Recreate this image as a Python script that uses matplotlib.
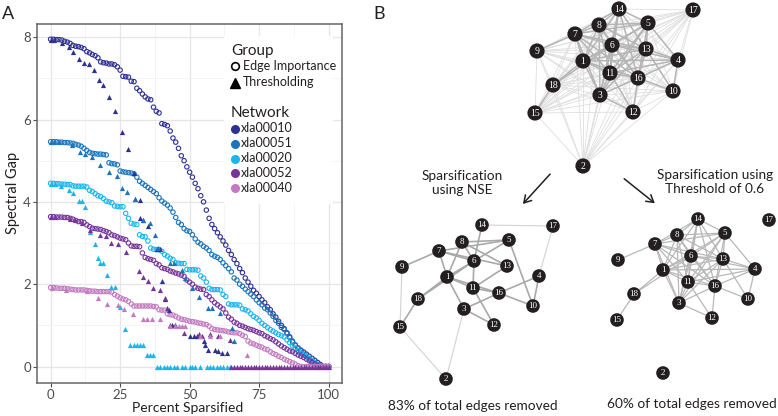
"""Spectral gap vs sparsification (A) and example network sparsification (B)."""

import itertools

import matplotlib

matplotlib.use("Agg")
import matplotlib.pyplot as plt
import numpy as np
from matplotlib.collections import LineCollection
from matplotlib.lines import Line2D
from matplotlib.patches import Circle, FancyArrowPatch, Rectangle

plt.rcParams["font.family"] = ["Lato", "DejaVu Sans"]

# ---------------------------------------------------------------- panel A data
PERCENT = np.arange(0, 101)

NETWORKS = ["xla00010", "xla00051", "xla00020", "xla00052", "xla00040"]
COLORS = ["#2E3192", "#1C75BC", "#1CB5EE", "#77359B", "#C27BC0"]
GROUPS = ["Edge Importance", "Thresholding"]

GAP_XLA00010 = [
    7.95, 7.95, 7.94, 7.94, 7.93, 7.90, 7.88, 7.85, 7.80, 7.78,
    7.77, 7.75, 7.72, 7.65, 7.62, 7.58, 7.55, 7.50, 7.40, 7.38,
    7.37, 7.35, 7.35, 7.33, 7.28, 7.20, 7.05, 7.04, 7.03, 6.93,
    6.92, 6.76, 6.70, 6.62, 6.55, 6.50, 6.48, 6.30, 6.20, 6.16,
    5.90, 5.88, 5.85, 5.72, 5.55, 5.45, 5.30, 5.12, 5.00, 4.85,
    4.72, 4.60, 4.45, 4.32, 4.15, 4.00, 3.80, 3.60, 3.45, 3.35,
    3.25, 3.15, 3.05, 2.95, 2.82, 2.72, 2.60, 2.50, 2.38, 2.28,
    2.15, 2.05, 1.95, 1.85, 1.78, 1.70, 1.62, 1.55, 1.45, 1.38,
    1.28, 1.20, 1.10, 1.00, 0.92, 0.82, 0.72, 0.60, 0.52, 0.45,
    0.40, 0.35, 0.30, 0.25, 0.20, 0.15, 0.10, 0.05, 0.00, 0.00,
    0.00,
]
GAP_XLA00051 = [
    5.46, 5.46, 5.46, 5.45, 5.45, 5.44, 5.44, 5.43, 5.42, 5.40,
    5.38, 5.35, 5.30, 5.25, 5.20, 5.18, 5.17, 5.16, 5.16, 5.15,
    5.14, 4.95, 4.93, 4.92, 4.90, 4.75, 4.73, 4.72, 4.71, 4.70,
    4.68, 4.60, 4.50, 4.45, 4.40, 4.35, 4.30, 4.25, 4.20, 4.10,
    4.02, 3.97, 3.92, 3.85, 3.75, 3.62, 3.50, 3.45, 3.35, 3.30,
    3.28, 3.20, 3.10, 3.02, 2.98, 2.92, 2.88, 2.82, 2.72, 2.68,
    2.65, 2.60, 2.52, 2.45, 2.38, 2.30, 2.15, 2.10, 2.00, 1.95,
    1.88, 1.82, 1.76, 1.70, 1.62, 1.55, 1.50, 1.42, 1.38, 1.30,
    1.22, 1.12, 1.05, 0.95, 0.90, 0.80, 0.70, 0.62, 0.52, 0.45,
    0.38, 0.30, 0.25, 0.18, 0.12, 0.08, 0.02, 0.00, 0.00, 0.00,
    0.00,
]
GAP_XLA00020 = [
    4.45, 4.45, 4.44, 4.44, 4.43, 4.43, 4.42, 4.42, 4.39, 4.38,
    4.38, 4.38, 4.38, 4.36, 4.28, 4.25, 4.20, 4.15, 4.13, 4.08,
    4.02, 4.00, 3.98, 3.90, 3.89, 3.88, 3.88, 3.72, 3.60, 3.48,
    3.46, 3.45, 3.20, 3.16, 3.15, 3.05, 2.88, 2.85, 2.84, 2.84,
    2.80, 2.72, 2.68, 2.63, 2.60, 2.52, 2.51, 2.50, 2.50, 2.36,
    2.35, 2.35, 2.35, 2.34, 2.20, 2.15, 2.05, 1.90, 1.87, 1.87,
    1.87, 1.86, 1.75, 1.70, 1.52, 1.50, 1.50, 1.50, 1.49, 1.40,
    1.38, 1.35, 1.28, 1.22, 1.18, 1.12, 1.05, 1.00, 0.95, 0.90,
    0.86, 0.82, 0.78, 0.75, 0.72, 0.65, 0.58, 0.50, 0.45, 0.38,
    0.32, 0.28, 0.25, 0.20, 0.15, 0.10, 0.06, 0.02, 0.00, 0.00,
    0.00,
]
GAP_XLA00052 = [
    3.64, 3.64, 3.63, 3.63, 3.63, 3.62, 3.62, 3.60, 3.58, 3.55,
    3.52, 3.52, 3.50, 3.44, 3.40, 3.36, 3.35, 3.34, 3.33, 3.30,
    3.28, 3.25, 3.20, 3.18, 3.15, 3.12, 3.10, 3.08, 3.00, 2.93,
    2.92, 2.92, 2.91, 2.76, 2.65, 2.62, 2.60, 2.58, 2.50, 2.47,
    2.40, 2.38, 2.36, 2.32, 2.30, 2.27, 2.25, 2.22, 2.19, 2.10,
    2.05, 2.00, 1.93, 1.90, 1.88, 1.87, 1.75, 1.70, 1.62, 1.55,
    1.50, 1.45, 1.40, 1.30, 1.20, 1.15, 1.08, 1.05, 1.00, 0.98,
    0.95, 0.92, 0.90, 0.88, 0.85, 0.82, 0.80, 0.75, 0.72, 0.68,
    0.65, 0.60, 0.55, 0.50, 0.46, 0.42, 0.38, 0.36, 0.32, 0.28,
    0.25, 0.22, 0.18, 0.14, 0.10, 0.06, 0.03, 0.00, 0.00, 0.00,
    0.00,
]
GAP_XLA00040 = [
    1.92, 1.92, 1.91, 1.90, 1.90, 1.90, 1.89, 1.88, 1.87, 1.86,
    1.86, 1.86, 1.86, 1.85, 1.84, 1.83, 1.83, 1.82, 1.82, 1.82,
    1.82, 1.82, 1.81, 1.75, 1.71, 1.67, 1.64, 1.62, 1.58, 1.52,
    1.47, 1.47, 1.47, 1.47, 1.47, 1.47, 1.47, 1.46, 1.45, 1.38,
    1.37, 1.37, 1.28, 1.26, 1.25, 1.22, 1.18, 1.15, 1.14, 1.12,
    1.10, 1.09, 1.08, 1.06, 1.05, 1.03, 1.02, 0.98, 0.92, 0.90,
    0.89, 0.88, 0.87, 0.86, 0.84, 0.83, 0.82, 0.82, 0.80, 0.76,
    0.73, 0.62, 0.57, 0.55, 0.52, 0.49, 0.47, 0.43, 0.41, 0.36,
    0.32, 0.29, 0.25, 0.22, 0.18, 0.15, 0.12, 0.09, 0.06, 0.02,
    0.00, 0.00, 0.00, 0.00, 0.00, 0.00, 0.00, 0.00, 0.00, 0.00,
    0.00,
]

# thresholding results (percent sparsified, spectral gap)
THR_X_XLA00010 = [0, 1.2, 4.2, 6.6, 8.1, 10.2, 11.9, 13.7, 15.5, 17.3, 18.9, 20.9,
                  23.3, 25.7, 27.8, 29.9, 30.2, 32.0, 32.3, 33.2, 35.2, 38.2, 39.4,
                  40.0, 41.2, 42.4, 43.6, 44.8, 50.2, 51.4, 52.6, 53.8, 55.0, 55.5,
                  56.7, 59.1, 60.3, 61.5, 63.3]
THR_Y_XLA00010 = [7.93, 7.93, 7.86, 7.77, 7.63, 7.48, 7.38, 7.36, 7.21, 6.96, 6.85, 6.54,
                  6.20, 5.70, 5.28, 4.70, 4.07, 4.04, 3.60, 3.55, 3.42, 2.85, 2.85,
                  2.07, 1.65, 1.38, 1.00, 1.00, 0.73, 0.73, 0.73, 0.73, 0.61, 0.53,
                  0.41, 0.41, 0.37, 0.33, 0.33]
THR_X_XLA00051 = [0, 1.2, 2.9, 7.8, 10.5, 12.5, 14.9, 17.7, 20.9, 23.7, 25.7, 27.5,
                  30.2, 33.4, 35.8, 37.6, 38.8, 43.0, 44.2, 47.2, 48.4, 50.8, 53.2,
                  56.7, 57.9, 60.9, 65.1, 66.0]
THR_Y_XLA00051 = [5.46, 5.46, 5.45, 5.38, 5.22, 5.16, 5.10, 4.90, 4.73, 4.64, 4.33, 4.23,
                  4.08, 3.55, 3.48, 3.20, 2.88, 2.52, 2.52, 2.35, 2.15, 1.91, 1.70,
                  1.42, 1.42, 1.30, 0.94, 0.61]
THR_X_XLA00020 = [0, 1.5, 3.6, 6.6, 8.1, 10.2, 11.4, 12.5, 14.3, 15.8, 17.0, 17.9,
                  18.9, 20.3, 21.7, 23.3, 25.1, 26.9, 28.7, 29.9, 31.1, 32.3, 33.4,
                  34.6, 35.8, 37.0, 38.2, 39.4, 40.6, 41.8, 43.0, 44.2, 45.4, 47.2,
                  48.4, 50.2, 50.8, 52.0, 53.8, 56.2, 57.3, 58.5, 59.7, 60.9, 62.1,
                  63.3, 64.5]
THR_Y_XLA00020 = [4.43, 4.43, 4.38, 4.29, 4.21, 4.03, 4.03, 3.87, 3.26, 2.98, 2.64, 2.51,
                  2.51, 2.23, 1.93, 1.93, 1.44, 0.90, 0.53, 0.53, 0.53, 0.53, 0.53,
                  0.29, 0.29, 0.29, 0, 0, 0, 0, 0, 0, 0, 0,
                  0, 0, 0, 0, 0, 0, 0, 0, 0, 0, 0,
                  0, 0]
THR_X_XLA00052 = [0, 1.5, 6.8, 8.6, 11.4, 14.3, 17.7, 19.8, 21.7, 24.1, 27.2, 31.7,
                  33.2, 35.2, 36.8, 39.2, 41.2, 41.8, 43.0, 47.8, 53.2, 54.4, 57.3,
                  60.3, 64.5,
                  65, 66, 67, 68, 69, 70, 71, 72, 73, 74, 75, 76, 77, 78, 79, 80,
                  81, 82, 83, 84, 85, 86, 87, 88, 89, 90, 91, 92, 93, 94, 95, 96,
                  97, 98, 99, 100]
THR_Y_XLA00052 = [3.64, 3.64, 3.59, 3.57, 3.48, 3.32, 3.20, 3.16, 3.01, 2.97, 2.77, 2.33,
                  2.17, 2.07, 1.91, 1.87, 1.66, 1.42, 1.00, 0.82, 0.78, 0.73, 0.78,
                  0.73, 0.65,
                  0, 0, 0, 0, 0, 0, 0, 0, 0, 0, 0, 0, 0, 0, 0, 0,
                  0, 0, 0, 0, 0, 0, 0, 0, 0, 0, 0, 0, 0, 0, 0, 0,
                  0, 0, 0, 0]
THR_X_XLA00040 = [0.6, 5.4, 13.1, 17.1, 20.3, 24.1, 26.3, 29.5, 33.2, 34.6, 36.4, 39.2,
                  43.0, 44.8, 46.0, 47.2, 48.4, 53.8, 57.3, 60.9, 70.5]
THR_Y_XLA00040 = [1.90, 1.87, 1.83, 1.66, 1.52, 1.50, 1.40, 1.28, 1.16, 1.16, 1.16, 1.16,
                  0.98, 0.98, 0.98, 0.98, 0.98, 0.73, 0.73, 0.73, 0.29]

GAPS = [GAP_XLA00010, GAP_XLA00051, GAP_XLA00020, GAP_XLA00052, GAP_XLA00040]
THR_X = [THR_X_XLA00010, THR_X_XLA00051, THR_X_XLA00020, THR_X_XLA00052, THR_X_XLA00040]
THR_Y = [THR_Y_XLA00010, THR_Y_XLA00051, THR_Y_XLA00020, THR_Y_XLA00052, THR_Y_XLA00040]

X_TICKS = [0, 25, 50, 75, 100]
Y_TICKS = [0, 2, 4, 6, 8]

# ---------------------------------------------------------------- panel B data
NODES = list(range(1, 19))

# node layouts, in figure pixels (x right, y down)
FULL_POS = {1: (583, 61), 2: (583, 166), 3: (600, 95), 4: (678, 60), 5: (648, 23),
            6: (612, 45), 7: (575, 34), 8: (599, 25), 9: (537, 51), 10: (673, 91),
            11: (610, 73), 12: (633, 112), 13: (646, 49), 14: (619, 9), 15: (535, 113),
            16: (638, 78), 17: (693, 10), 18: (553, 85)}
NSE_POS = {1: (447, 277), 2: (446, 379), 3: (464, 309), 4: (539, 276), 5: (509, 240),
           6: (474, 261), 7: (439, 251), 8: (462, 242), 9: (402, 267), 10: (533, 306),
           11: (473, 288), 12: (494, 325), 13: (507, 266), 14: (482, 225), 15: (400, 327),
           16: (499, 293), 17: (553, 226), 18: (418, 299)}
THR_POS = {1: (663, 270), 2: (663, 373), 3: (679, 303), 4: (755, 269), 5: (725, 233),
           6: (691, 256), 7: (655, 244), 8: (677, 235), 9: (618, 260), 10: (748, 299),
           11: (688, 282), 12: (712, 318), 13: (723, 259), 14: (698, 219), 15: (617, 320),
           16: (715, 286), 17: (769, 220), 18: (634, 294)}

NSE_EDGES = [(14, 6), (6, 11), (8, 5), (7, 5), (5, 6), (5, 10), (7, 13), (8, 13),
             (7, 6), (7, 9), (7, 1), (8, 1), (8, 6), (1, 6), (18, 6), (18, 1), (1, 11),
             (1, 16), (11, 16), (11, 13), (16, 4), (16, 10), (4, 10), (16, 3), (3, 12),
             (11, 12), (1, 3), (18, 15)]
NSE_WEAK_EDGES = [(14, 17), (17, 4), (3, 2), (15, 2), (9, 15)]

THRESH_EDGES = [
    (1, 3), (1, 5), (1, 6), (1, 7), (1, 8), (1, 11), (1, 13), (1, 14), (1, 16),
    (3, 5), (3, 6), (3, 7), (3, 8), (3, 11), (3, 13), (3, 14), (3, 16),
    (5, 6), (5, 7), (5, 8), (5, 11), (5, 13), (5, 14), (5, 16),
    (6, 7), (6, 8), (6, 11), (6, 13), (6, 14), (6, 16),
    (7, 8), (7, 11), (7, 13), (7, 14), (7, 16),
    (8, 11), (8, 13), (8, 14), (8, 16),
    (11, 13), (11, 14), (11, 16), (13, 14), (13, 16), (14, 16),
    (7, 9), (1, 18), (6, 18), (15, 18),
    (4, 13), (4, 16), (4, 5), (4, 6), (4, 1), (4, 10), (4, 11),
    (10, 16), (10, 13), (3, 12), (11, 12), (12, 16),
]

NODE_COLOR = "#231F20"
TEXT_COLOR = "#231F20"
W, H = 778, 416


def fx(px):
    return px / W


def fy(py):
    return 1 - py / H


def draw_network(ax, pos, edge_groups, radius, label_size):
    """Draw edges (list of (edges, color, width)) then numbered black nodes."""
    for edges, color, width in edge_groups:
        segments = [[pos[a], pos[b]] for a, b in edges]
        ax.add_collection(LineCollection(segments, colors=color, linewidths=width, zorder=1))
    for node in NODES:
        x, y = pos[node]
        ax.add_patch(Circle((x, y), radius, facecolor=NODE_COLOR, edgecolor="none", zorder=3))
        ax.text(x, y + 0.4, str(node), color="white", fontsize=label_size,
                family="Liberation Serif", ha="center", va="center", zorder=4)


fig = plt.figure(figsize=(7.78, 4.16), dpi=100)

# ---------------------------------------------------------------- panel A
ax = fig.add_axes([fx(37), fy(383), 305 / W, 359 / H])
ax.set_xlim(-4.9, 104.8)
ax.set_ylim(-0.4, 8.32)
ax.set_xticks(X_TICKS)
ax.set_yticks(Y_TICKS)
ax.set_xticks([12.5, 37.5, 62.5, 87.5], minor=True)
ax.set_yticks([1, 3, 5, 7], minor=True)
ax.set_axisbelow(True)
ax.grid(which="major", color="#E6E6E6", linewidth=0.9)
ax.grid(which="minor", color="#F2F2F2", linewidth=0.6)
ax.tick_params(which="major", length=3, color="#4D4D4D", labelsize=9.5,
               labelcolor="#4D4D4D")
ax.tick_params(axis="x", which="major", pad=1)
ax.tick_params(axis="y", which="major", pad=1.5)
ax.tick_params(which="minor", length=0)
for spine in ax.spines.values():
    spine.set_color("#666666")
    spine.set_linewidth(1.1)

for gap, color in zip(GAPS, COLORS):
    ax.scatter(PERCENT, gap, s=10, facecolors="none", edgecolors=color,
               linewidths=0.8, zorder=2)
for tx, ty, color in zip(THR_X, THR_Y, COLORS):
    ax.scatter(tx, ty, s=14, marker="^", color=color, linewidths=0, zorder=3)

# axis titles placed in figure pixels
fig.text(fx(188), fy(412.5), "Percent Sparsified", fontsize=10, color=TEXT_COLOR,
         ha="center", va="baseline")
fig.text(fx(13), fy(193), "Spectral Gap", fontsize=10.5, color=TEXT_COLOR,
         ha="center", va="center", rotation=90)

# white legend panel that hides the grid
ax.add_patch(Rectangle(((224 - 37) / 305, (383 - 204) / 359), 109 / 305, 168 / 359,
                       transform=ax.transAxes, facecolor="white", edgecolor="none",
                       zorder=1))

# legend, laid out by hand like the ggplot guide
legend_kw = dict(color="#231F20", ha="left", va="baseline")
fig.text(fx(231), fy(55), "Group", fontsize=11, **legend_kw)
fig.text(fx(231), fy(117), "Network", fontsize=11, **legend_kw)
group_markers = [dict(marker="o", markerfacecolor="none", markeredgecolor="black",
                      markeredgewidth=1.2, markersize=5.5),
                 dict(marker="^", color="black", markersize=6.5)]
for i, (label, style) in enumerate(zip(GROUPS, group_markers)):
    y_mark = 66 + 17 * i
    fig.add_artist(Line2D([fx(235)], [fy(y_mark)], linestyle="none", **style))
    fig.text(fx(243), fy(y_mark + 3.5), label, fontsize=9, **legend_kw)
for i, (name, color) in enumerate(zip(NETWORKS, COLORS)):
    y_mark = 129 + 14.8 * i
    fig.add_artist(Line2D([fx(235)], [fy(y_mark)], linestyle="none", marker="o",
                          color=color, markersize=5.5))
    fig.text(fx(240.5), fy(y_mark + 3.5), name, fontsize=9, **legend_kw)

fig.text(fx(2), fy(19), "A", fontsize=13, color=TEXT_COLOR, ha="left", va="baseline")

# ---------------------------------------------------------------- panel B
axb = fig.add_axes([fx(370), 0, 408 / W, 1])
axb.set_xlim(370, 778)
axb.set_ylim(416, 0)
axb.axis("off")

strong = set(THRESH_EDGES)
weak = [e for e in itertools.combinations(NODES, 2)
        if e not in strong and (e[1], e[0]) not in strong]
draw_network(axb, FULL_POS,
             [(weak, "#DEDEDE", 0.6), (THRESH_EDGES, "#B5B5B5", 1.1)],
             radius=7.6, label_size=7)
draw_network(axb, NSE_POS,
             [(NSE_WEAK_EDGES, "#D2D2D2", 0.8), (NSE_EDGES, "#A9A9A9", 1.2)],
             radius=6.8, label_size=6.5)
draw_network(axb, THR_POS, [(THRESH_EDGES, "#B8B8B8", 0.9)], radius=6.8, label_size=6.5)

for start, end in [((552, 172), (521, 206)), ((622, 177), (657, 205))]:
    axb.add_patch(FancyArrowPatch(start, end, arrowstyle="->,head_length=5,head_width=3",
                                  color="#231F20", linewidth=1.1, mutation_scale=1))

text_kw = dict(fontsize=9.8, color=TEXT_COLOR, ha="center", va="center", linespacing=1.25)
axb.text(462, 183, "Sparsification\nusing NSE", **text_kw)
axb.text(715, 182, "Sparsification using\nThreshold of 0.6", **text_kw)
axb.text(473, 406, "83% of total edges removed", **text_kw)
axb.text(692, 404, "60% of total edges removed", **text_kw)

fig.text(fx(373), fy(19), "B", fontsize=13, color=TEXT_COLOR, ha="left", va="baseline")

fig.savefig("out.png", dpi=100)
